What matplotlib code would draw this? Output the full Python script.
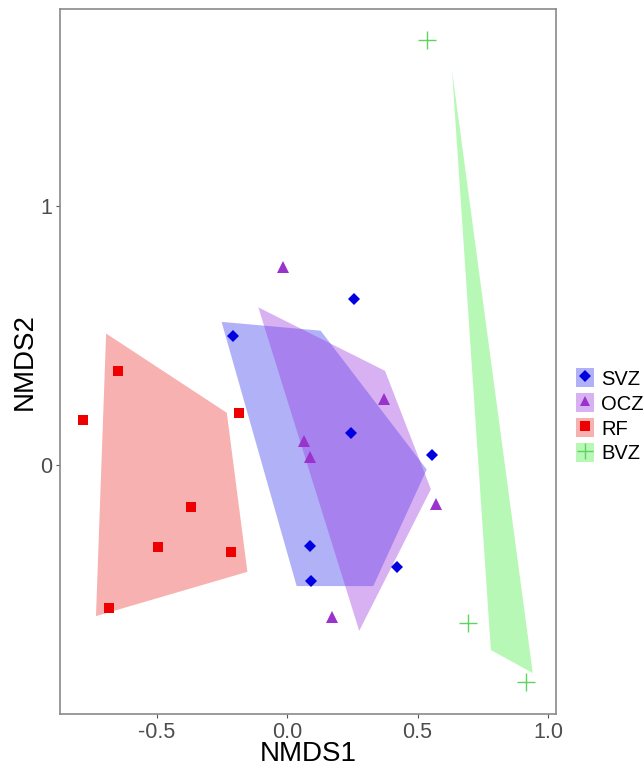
import matplotlib
matplotlib.use('Agg')
import matplotlib.pyplot as plt
from matplotlib.patches import Polygon, Patch
from matplotlib.lines import Line2D

plt.rcParams['font.family'] = ['Liberation Sans', 'DejaVu Sans']

groups = ['SVZ', 'OCZ', 'RF', 'BVZ']
colors = {'SVZ': '#0000e0', 'OCZ': '#9933cc', 'RF': '#ee0000', 'BVZ': '#5fd35f'}
fills = {'SVZ': '#3333ee', 'OCZ': '#9933dd', 'RF': '#ee3333', 'BVZ': '#44ee44'}
markers = {'SVZ': 'D', 'OCZ': '^', 'RF': 's', 'BVZ': '+'}

svz_x = [-0.208, 0.256, 0.244, 0.555, 0.087, 0.091, 0.421]
svz_y = [0.498, 0.641, 0.124, 0.039, -0.313, -0.448, -0.394]
ocz_x = [-0.018, 0.370, 0.065, 0.088, 0.569, 0.170]
ocz_y = [0.765, 0.255, 0.092, 0.030, -0.150, -0.588]
rf_x = [-0.648, -0.785, -0.185, -0.371, -0.497, -0.215, -0.684]
rf_y = [0.364, 0.174, 0.203, -0.161, -0.318, -0.337, -0.553]
bvz_x = [0.536, 0.693, 0.916]
bvz_y = [1.641, -0.610, -0.838]

# hull outlines as drawn in the figure
svz_hull_x = [-0.252, 0.128, 0.535, 0.330, 0.036]
svz_hull_y = [0.553, 0.519, -0.017, -0.467, -0.467]
ocz_hull_x = [-0.111, 0.375, 0.551, 0.276]
ocz_hull_y = [0.609, 0.364, -0.093, -0.640]
rf_hull_x = [-0.695, -0.232, -0.153, -0.734]
rf_hull_y = [0.508, 0.202, -0.412, -0.583]
bvz_hull_x = [0.632, 0.781, 0.942]
bvz_hull_y = [1.525, -0.714, -0.803]

points = {'SVZ': (svz_x, svz_y), 'OCZ': (ocz_x, ocz_y),
          'RF': (rf_x, rf_y), 'BVZ': (bvz_x, bvz_y)}
hulls = {'SVZ': (svz_hull_x, svz_hull_y), 'OCZ': (ocz_hull_x, ocz_hull_y),
         'RF': (rf_hull_x, rf_hull_y), 'BVZ': (bvz_hull_x, bvz_hull_y)}
sizes = {'SVZ': 6.5, 'OCZ': 8, 'RF': 7, 'BVZ': 13}

fig = plt.figure(figsize=(6.43, 7.70), dpi=100)
ax = fig.add_axes([0.0933, 0.0727, 0.7714, 0.9156])

for g in groups:
    hx, hy = hulls[g]
    ax.add_patch(Polygon(list(zip(hx, hy)), closed=True, facecolor=fills[g],
                         alpha=0.38, edgecolor='none', zorder=1))

for g in groups:
    px, py = points[g]
    mew = 1.0 if g == 'BVZ' else 0
    ax.plot(px, py, linestyle='none', marker=markers[g], color=colors[g],
            markersize=sizes[g], markeredgewidth=mew, zorder=3)

ax.set_xlim(-0.872, 1.031)
ax.set_ylim(-0.961, 1.761)
ax.set_xticks([-0.5, 0.0, 0.5, 1.0])
ax.set_xticklabels(['-0.5', '0.0', '0.5', '1.0'])
ax.set_yticks([0, 1])
ax.tick_params(colors='#555555', labelsize=15.5, length=3, width=0.8, pad=2.5)
ax.tick_params(axis='both', labelcolor='#4d4d4d')
for s in ax.spines.values():
    s.set_color('#8a8a8a')
    s.set_linewidth(1.2)
ax.set_xlabel('NMDS1', fontsize=20, labelpad=-1)
ax.set_ylabel('NMDS2', fontsize=20, labelpad=2)

handles = []
for g in groups:
    bg = Patch(facecolor=fills[g], alpha=0.38, edgecolor='none')
    mew = 1.0 if g == 'BVZ' else 0
    ms = 12 if g == 'BVZ' else 6.5
    mk = Line2D([], [], linestyle='none', marker=markers[g], color=colors[g],
                markersize=ms, markeredgewidth=mew)
    handles.append((bg, mk))

fig.legend(handles, groups, loc='center left', bbox_to_anchor=(0.88, 0.46),
           frameon=False, fontsize=14.5, handlelength=0.9, handleheight=1.1,
           handletextpad=0.35, labelspacing=0.22, borderpad=0)

fig.savefig('out.png', dpi=100)
